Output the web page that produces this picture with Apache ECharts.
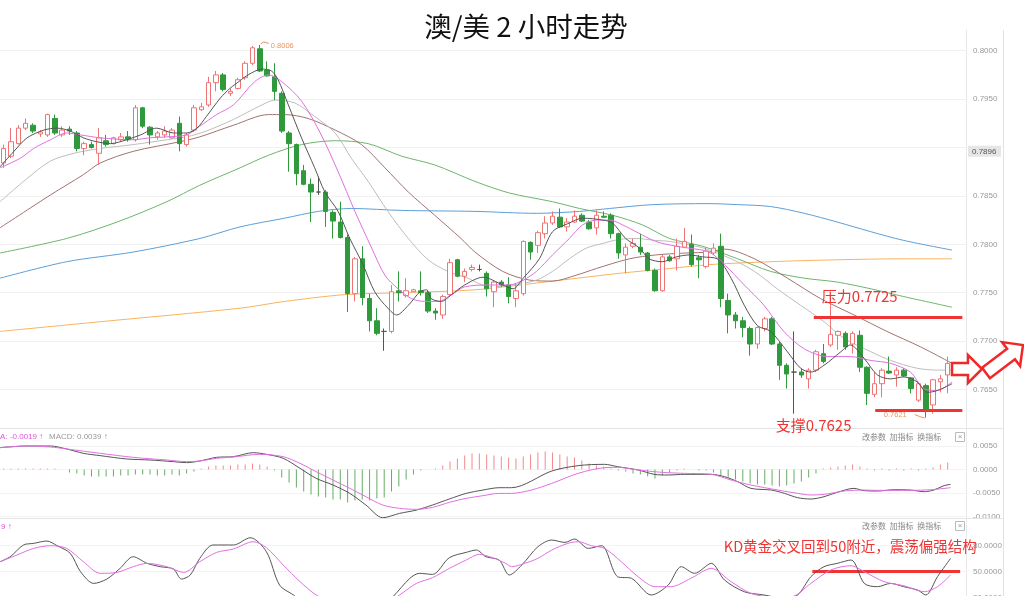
<!DOCTYPE html>
<html><head><meta charset="utf-8">
<script src="https://cdn.jsdelivr.net/npm/echarts@6/dist/echarts.min.js"></script>
<style>html,body{margin:0;padding:0;background:#fff}#c{width:1024px;height:596px}</style>
</head><body><div id="c"></div>
<script>
// ---------------- DATA ----------------
const categories = Array.from({length:132}, (_, i) => String(i + 1));
// [open, close, low, high]
const candles = [
[0.7884,0.7899,0.7879,0.7903],[0.7891,0.7906,0.7889,0.7920],[0.7904,0.7920,0.7903,0.7923],[0.7920,0.7925,0.7918,0.7930],
[0.7923,0.7917,0.7915,0.7925],[0.7914,0.7916,0.7911,0.7918],[0.7913,0.7934,0.7911,0.7935],[0.7930,0.7915,0.7913,0.7934],
[0.7913,0.7918,0.7911,0.7922],[0.7919,0.7917,0.7913,0.7922],[0.7915,0.7899,0.7896,0.7917],[0.7899,0.7904,0.7892,0.7906],
[0.7903,0.7900,0.7899,0.7906],[0.7894,0.7910,0.7882,0.7920],[0.7907,0.7903,0.7901,0.7913],[0.7904,0.7910,0.7903,0.7911],
[0.7908,0.7911,0.7906,0.7915],[0.7911,0.7908,0.7906,0.7917],[0.7908,0.7941,0.7906,0.7944],[0.7941,0.7922,0.7920,0.7942],
[0.7921,0.7913,0.7903,0.7922],[0.7911,0.7915,0.7908,0.7917],[0.7913,0.7917,0.7910,0.7922],[0.7910,0.7918,0.7909,0.7920],
[0.7925,0.7904,0.7896,0.7932],[0.7903,0.7913,0.7901,0.7915],[0.7918,0.7941,0.7916,0.7944],[0.7939,0.7942,0.7938,0.7946],
[0.7944,0.7967,0.7942,0.7973],[0.7967,0.7975,0.7958,0.7979],[0.7975,0.7960,0.7958,0.7977],[0.7956,0.7958,0.7953,0.7961],
[0.7961,0.7970,0.7960,0.7972],[0.7972,0.7987,0.7970,0.7989],[0.7987,0.8003,0.7985,0.8005],[0.8002,0.7979,0.7978,0.8006],
[0.7980,0.7974,0.7973,0.7989],[0.7973,0.7958,0.7949,0.7987],[0.7956,0.7917,0.7915,0.7958],[0.7915,0.7904,0.7875,0.7917],
[0.7903,0.7873,0.7861,0.7904],[0.7876,0.7862,0.7861,0.7882],[0.7862,0.7854,0.7823,0.7868],[0.7854,0.7854,0.7851,0.7870],
[0.7854,0.7834,0.7818,0.7856],[0.7833,0.7824,0.7806,0.7835],[0.7823,0.7807,0.7806,0.7844],[0.7807,0.7749,0.7730,0.7810],
[0.7749,0.7785,0.7741,0.7787],[0.7785,0.7745,0.7737,0.7798],[0.7744,0.7721,0.7710,0.7749],[0.7721,0.7708,0.7706,0.7734],
[0.7710,0.7710,0.7690,0.7713],[0.7710,0.7751,0.7708,0.7758],[0.7752,0.7750,0.7741,0.7772],[0.7747,0.7752,0.7745,0.7765],
[0.7751,0.7753,0.7751,0.7754],[0.7752,0.7750,0.7747,0.7772],[0.7750,0.7731,0.7729,0.7752],[0.7731,0.7729,0.7722,0.7734],
[0.7727,0.7746,0.7723,0.7748],[0.7748,0.7781,0.7746,0.7785],[0.7784,0.7767,0.7766,0.7785],[0.7767,0.7772,0.7761,0.7775],
[0.7774,0.7776,0.7772,0.7779],[0.7774,0.7774,0.7772,0.7779],[0.7770,0.7754,0.7746,0.7772],[0.7751,0.7761,0.7735,0.7763],
[0.7761,0.7758,0.7756,0.7763],[0.7758,0.7746,0.7739,0.7766],[0.7744,0.7752,0.7735,0.7760],[0.7749,0.7803,0.7747,0.7804],
[0.7802,0.7792,0.7784,0.7803],[0.7799,0.7812,0.7791,0.7814],[0.7811,0.7822,0.7806,0.7829],[0.7822,0.7829,0.7820,0.7834],
[0.7828,0.7818,0.7817,0.7837],[0.7818,0.7823,0.7813,0.7827],[0.7823,0.7829,0.7822,0.7835],[0.7830,0.7824,0.7823,0.7832],
[0.7823,0.7816,0.7815,0.7825],[0.7817,0.7830,0.7810,0.7835],[0.7829,0.7828,0.7827,0.7834],[0.7830,0.7811,0.7806,0.7832],
[0.7811,0.7791,0.7785,0.7812],[0.7789,0.7797,0.7770,0.7801],[0.7798,0.7801,0.7796,0.7806],[0.7797,0.7792,0.7789,0.7811],
[0.7791,0.7773,0.7772,0.7792],[0.7773,0.7752,0.7751,0.7775],[0.7752,0.7787,0.7751,0.7789],[0.7787,0.7783,0.7782,0.7789],
[0.7785,0.7798,0.7773,0.7806],[0.7797,0.7803,0.7796,0.7817],[0.7800,0.7779,0.7777,0.7810],[0.7786,0.7784,0.7765,0.7789],
[0.7777,0.7793,0.7775,0.7797],[0.7791,0.7796,0.7789,0.7801],[0.7798,0.7744,0.7735,0.7811],[0.7742,0.7727,0.7708,0.7749],
[0.7727,0.7721,0.7713,0.7730],[0.7721,0.7714,0.7704,0.7725],[0.7713,0.7697,0.7685,0.7715],[0.7697,0.7714,0.7692,0.7715],
[0.7713,0.7723,0.7710,0.7725],[0.7723,0.7697,0.7696,0.7725],[0.7697,0.7675,0.7660,0.7699],[0.7675,0.7666,0.7651,0.7677],
[0.7668,0.7668,0.7625,0.7710],[0.7668,0.7665,0.7662,0.7672],[0.7661,0.7670,0.7651,0.7672],[0.7670,0.7689,0.7668,0.7691],
[0.7687,0.7679,0.7677,0.7697],[0.7696,0.7707,0.7694,0.7748],[0.7706,0.7710,0.7691,0.7711],[0.7708,0.7694,0.7691,0.7710],
[0.7697,0.7708,0.7687,0.7710],[0.7706,0.7673,0.7668,0.7711],[0.7673,0.7646,0.7634,0.7674],[0.7645,0.7656,0.7642,0.7668],
[0.7656,0.7670,0.7642,0.7672],[0.7669,0.7667,0.7666,0.7684],[0.7665,0.7670,0.7653,0.7673],[0.7670,0.7664,0.7663,0.7672],
[0.7662,0.7651,0.7646,0.7663],[0.7639,0.7656,0.7637,0.7658],[0.7654,0.7628,0.7621,0.7656],[0.7634,0.7660,0.7625,0.7661],
[0.7658,0.7661,0.7647,0.7665],[0.7665,0.7677,0.7646,0.7684]
];
// moving averages: [candle index, price]
const ma5 = [[-0.5,0.7880],[1.4,0.7896],[3.2,0.7910],[5.5,0.7918],[7.3,0.7920],[9.1,0.7917],[10.9,0.7910],[12.7,0.7906],[14.6,0.7904],[16.8,0.7908],[18.7,0.7913],[20.9,0.7920],[23.2,0.7915],[25,0.7915],[26.4,0.7920],[27.7,0.7932],[29.6,0.7951],[30.9,0.7961],[31.6,0.7965],[33.4,0.7975],[35.3,0.7981],[36.6,0.7979],[37.5,0.7970],[38.9,0.7944],[40.7,0.7910],[42.5,0.7879],[43.9,0.7854],[45.7,0.7834],[47.3,0.7806],[49.1,0.7779],[50.7,0.7751],[52.5,0.7734],[53.7,0.7727],[55.3,0.7737],[56.9,0.7751],[57.8,0.7753],[58.4,0.7744],[59.8,0.7741],[61.2,0.7748],[63,0.7758],[65.5,0.7766],[68.2,0.7758],[69.6,0.7754],[71,0.7765],[73.2,0.7785],[75,0.7813],[77.3,0.7822],[79.1,0.7827],[81.9,0.7825],[83.2,0.7822],[85,0.7806],[86.9,0.7796],[88.2,0.7785],[90,0.7782],[91.9,0.7787],[93.7,0.7789],[95.5,0.7787],[97.5,0.7785],[99.4,0.7765],[101.2,0.7737],[103,0.7716],[104.8,0.7710],[107.1,0.7689],[108.9,0.7672],[110.3,0.7668],[112.1,0.7675],[114.4,0.7689],[115.7,0.7696],[117.6,0.7682],[119.4,0.7665],[121.2,0.7661],[123,0.7663],[124.8,0.7658],[126.2,0.7647],[127.6,0.7649],[129.6,0.7656]];
const ma10 = [[-0.5,0.7879],[2.3,0.7889],[4.1,0.7899],[6.4,0.7908],[8.6,0.7915],[10.5,0.7913],[13.2,0.7910],[17.7,0.7908],[20,0.7910],[22.3,0.7911],[25,0.7913],[26.8,0.7922],[29.1,0.7934],[31.4,0.7944],[34.3,0.7968],[36.2,0.7975],[38,0.7968],[40.7,0.7948],[43.4,0.7913],[45.7,0.7875],[48,0.7834],[50.3,0.7796],[52.1,0.7768],[53.9,0.7754],[55.7,0.7744],[57.5,0.7741],[59.4,0.7741],[61.2,0.7748],[63,0.7756],[66.4,0.7758],[69.1,0.7758],[71,0.7763],[72.8,0.7772],[75,0.7789],[77.3,0.7806],[79.1,0.7820],[81,0.7825],[82.8,0.7825],[84.6,0.7820],[86.4,0.7813],[89.1,0.7803],[91.9,0.7798],[93.7,0.7796],[96.4,0.7792],[98.5,0.7779],[101.2,0.7758],[103.9,0.7737],[106.6,0.7710],[109.4,0.7692],[112.6,0.7684],[115.7,0.7684],[118.5,0.7680],[121.2,0.7677],[123.9,0.7668],[125.7,0.7651],[127.6,0.7649],[129.6,0.7658]];
const ma20 = [[-0.5,0.7844],[3.2,0.7868],[6.4,0.7886],[9.6,0.7894],[13.2,0.7899],[17.7,0.7903],[22.3,0.7908],[25,0.7911],[27.7,0.7917],[31.4,0.7929],[35.3,0.7944],[37.1,0.7949],[39.8,0.7946],[42.5,0.7932],[45.3,0.7915],[47.5,0.7889],[49.8,0.7865],[52.5,0.7834],[55.3,0.7806],[58,0.7784],[60.7,0.7772],[63.4,0.7765],[66.4,0.7756],[69.6,0.7758],[72.8,0.7763],[75,0.7772],[77.3,0.7785],[79.6,0.7796],[81.9,0.7801],[84.1,0.7805],[86.4,0.7806],[89.1,0.7804],[91,0.7803],[94.6,0.7798],[95.7,0.7796],[99.4,0.7785],[102.6,0.7772],[105.7,0.7754],[108.9,0.7737],[112.1,0.7720],[114.8,0.7703],[118.5,0.7689],[121.2,0.7680],[124.8,0.7672],[127.6,0.7670],[129.6,0.7670]];
const ma30 = [[-0.5,0.7817],[6.4,0.7851],[10.9,0.7872],[13.2,0.7884],[17.7,0.7896],[24.1,0.7906],[26.8,0.7911],[31.4,0.7923],[36.2,0.7934],[38.4,0.7934],[41.6,0.7930],[45.3,0.7918],[48.9,0.7903],[52.1,0.7879],[55.3,0.7854],[58.9,0.7830],[62.5,0.7806],[64.4,0.7792],[68.2,0.7772],[71.9,0.7763],[75,0.7762],[78.2,0.7768],[81,0.7775],[85.5,0.7785],[89.1,0.7789],[93.2,0.7791],[96.4,0.7792],[98.5,0.7795],[102.6,0.7785],[107.1,0.7765],[111.6,0.7744],[116.2,0.7727],[120.7,0.7710],[125.3,0.7694],[129.6,0.7677]];
const ma60 = [[-0.5,0.7791],[8.6,0.7806],[15.5,0.7823],[22.3,0.7844],[26.8,0.7861],[32.3,0.7879],[36.2,0.7892],[40.7,0.7903],[45.3,0.7907],[49.8,0.7904],[54.4,0.7891],[58.9,0.7882],[64.4,0.7865],[69.1,0.7853],[75,0.7844],[78.7,0.7837],[83.2,0.7830],[87.3,0.7820],[91,0.7806],[95.5,0.7798],[100.3,0.7785],[104.8,0.7772],[109.4,0.7765],[113.9,0.7761],[118.5,0.7754],[123,0.7746],[129.6,0.7735]];
const ma120 = [[-0.5,0.7765],[8.6,0.7782],[17.7,0.7792],[26.8,0.7806],[32.3,0.7818],[38.4,0.7827],[43,0.7834],[47.5,0.7837],[54.4,0.7835],[64.4,0.7834],[72.8,0.7832],[78.7,0.7834],[82.8,0.7837],[88.7,0.7841],[96.4,0.7842],[100.3,0.7841],[104.8,0.7839],[109.4,0.7832],[113.9,0.7823],[118.5,0.7813],[123,0.7804],[129.6,0.7794]];
const ma250 = [[-0.5,0.7710],[13.2,0.7720],[32.3,0.7734],[38.4,0.7741],[46.6,0.7748],[54.4,0.7750],[64.4,0.7753],[72.8,0.7760],[84.1,0.7770],[91,0.7775],[96.4,0.7779],[104.8,0.7782],[113.9,0.7784],[123,0.7785],[129.6,0.7785]];
// MACD histogram per candle
const macdHist = [
0.0002,0.0002,0.0002,0.0002,0.0002,0.0002,0.0002,0.0002,0,-0.00064,
-0.00085,-0.00128,-0.00149,-0.00149,-0.00149,-0.00149,-0.00128,-0.00128,-0.00106,-0.00106,
-0.00106,-0.00128,-0.00128,-0.00106,-0.00128,-0.00085,-0.00043,0.00021,0.00064,0.00085,
0.00085,0.00085,0.00106,0.00106,0.00128,0.00106,0.00064,-0.00021,-0.0017,-0.00277,
-0.00383,-0.00469,-0.00533,-0.00575,-0.00596,-0.00639,-0.00639,-0.00703,-0.0066,-0.00639,
-0.0066,-0.00618,-0.00596,-0.00469,-0.00362,-0.00213,-0.00106,-0.00021,0,0.00021,
0.00085,0.0017,0.00234,0.00298,0.00341,0.00341,0.0032,0.00298,0.00277,0.00256,
0.00234,0.00277,0.0032,0.00362,0.00383,0.00362,0.0032,0.00277,0.00256,0.00192,
0.00128,0.00085,0.00064,0.00021,-0.00021,-0.00043,-0.00085,-0.00106,-0.00149,-0.00192,
-0.00128,-0.00064,-0.00021,0.00021,0,-0.00021,-0.00021,-0.00064,-0.00128,-0.0017,
-0.00213,-0.00256,-0.00298,-0.0032,-0.0032,-0.00341,-0.00362,-0.00341,-0.00298,-0.00256,
-0.0017,-0.00085,0.00021,0.00043,0.00064,0.00085,0.00106,0.00064,0.00021,-0.00021,
0.00021,-0.00021,0.00021,-0.00021,0.00021,-0.00021,0.00021,0.00043,0.00106,0.00149
];
const dif = [[-0.5,0.00465],[3.2,0.0050],[6.4,0.0050],[8.6,0.00437],[10.9,0.00344],[13.2,0.00295],[16.8,0.00224],[20,0.00202],[23.2,0.00167],[25,0.00146],[26.8,0.00181],[29.1,0.00259],[31.4,0.00273],[34.1,0.00358],[35.9,0.00323],[38.2,0.00238],[40.5,0.00025],[42.7,-0.00188],[45,-0.0033],[47.3,-0.00508],[49.5,-0.00756],[51.8,-0.01026],[54.1,-0.00934],[56.4,-0.00863],[58.6,-0.00756],[60.9,-0.00628],[63.2,-0.00508],[65.5,-0.00437],[67.7,-0.00387],[69.4,-0.00387],[74.9,-0.00032],[78.5,0.00082],[82.1,0.0011],[83.9,0.0006],[86.7,-0.0001],[88.9,-0.00103],[90.8,-0.00117],[93,-0.00103],[96.7,-0.00103],[98.5,-0.00153],[100.3,-0.00259],[102.1,-0.00401],[104.9,-0.00437],[106.7,-0.00508],[108.5,-0.006],[110.3,-0.00628],[112.1,-0.00579],[113.9,-0.00486],[116.2,-0.00401],[117.6,-0.00451],[119.4,-0.00458],[121.7,-0.0043],[123.9,-0.00437],[125.8,-0.00472],[127.1,-0.00437],[128.5,-0.00344],[129.4,-0.00316]];
const dea = [[-0.5,0.00465],[3.2,0.0050],[6.4,0.00479],[8.6,0.00437],[13.2,0.00344],[17.7,0.00259],[22.3,0.00202],[25,0.00167],[26.8,0.00181],[29.1,0.00238],[31.4,0.00266],[35,0.00323],[38.2,0.00273],[40.5,0.00131],[42.7,-0.00046],[45,-0.00224],[47.3,-0.00401],[49.5,-0.00579],[51.8,-0.00756],[54.1,-0.00827],[56.4,-0.00848],[58.6,-0.00806],[60.9,-0.00699],[63.2,-0.00614],[65.5,-0.00557],[67.7,-0.00508],[69.4,-0.00508],[72.1,-0.00437],[74.9,-0.00295],[78.5,-0.00082],[82.1,0.00039],[83.9,0.00046],[86.7,-0.0001],[89.9,-0.0006],[93,-0.00082],[96.7,-0.00103],[99.4,-0.00224],[102.1,-0.0033],[105.8,-0.00437],[108.5,-0.00508],[110.3,-0.00543],[112.1,-0.00529],[114.9,-0.00458],[117.6,-0.00437],[119.4,-0.00444],[123.9,-0.00444],[126.7,-0.0043],[129.4,-0.00387]];
const kLine = [[-0.5,61.5],[0.9,67.3],[2.7,80.8],[4.1,82.7],[5.9,85.4],[7.3,80],[9.1,71.2],[10.5,50],[12.3,36.5],[14.1,41.5],[15.9,53.8],[17.7,67.3],[19.6,59.6],[21.4,55.8],[23.2,53.1],[24.3,41.5],[25.5,46.2],[26.8,65.4],[28.6,80.8],[31.4,80.8],[33.7,89.2],[35.9,73.1],[37.7,34.6],[39.6,23.1],[41,14],[43,8],[45.5,5],[48,4],[50.5,7],[52,13],[53.2,21.2],[55.5,42.3],[56.8,48.1],[58.6,46.9],[60.9,66.2],[63.2,72.3],[64.6,75],[65.9,67.3],[67.7,63.5],[69.1,46.2],[70.8,57.7],[73,78.8],[74.9,86.5],[76.7,83.8],[78,87.7],[79.9,76.9],[81.7,80],[83.9,44.2],[85.8,42.3],[88.5,23.1],[90.8,34.6],[92.6,55.8],[94.4,48.1],[96.7,59.6],[98.5,40.4],[101.2,26.9],[103.9,23.1],[106.7,19.2],[108.5,23.1],[110.3,44.2],[112.1,55.8],[113.9,59.6],[115.8,63.5],[117.6,36.5],[119.4,32.7],[121.2,36.5],[123,32.7],[124.9,28.8],[126,23.1],[127.6,44.2],[129.4,65.4]];
const dLine = [[-0.5,61.5],[1.8,69.2],[4.1,76.9],[6.4,80],[8.6,76.9],[10.9,61.5],[13.2,48.1],[15.5,49.2],[17.7,55.8],[19.6,59.6],[22.3,55.8],[24.6,49.2],[26.8,61.5],[29.1,72.3],[31.4,76.2],[34.1,84.6],[35.9,77.7],[38.2,57.7],[40.5,38.5],[42.7,23.1],[44.5,16],[47,11],[49.5,10],[52,13],[54.1,23.1],[56.4,36.5],[58.6,43.1],[60.9,53.8],[63.2,63.5],[65,70],[66.8,66.2],[68.6,59.6],[69.4,55.8],[71.2,59.6],[73,65.4],[74.9,75],[77.1,82.7],[78.5,84.6],[80.3,80],[82.1,76.9],[84.4,61.5],[86.7,44.2],[89,32.7],[91.2,32.7],[93.9,42.3],[96.7,53.8],[99.4,38.5],[102.1,25],[104.9,21.2],[107.6,21.2],[110.3,36.5],[113,51.9],[115.8,56.9],[117.6,50],[120.3,38.5],[123,33.8],[125.8,26.9],[127.6,32.7],[129.4,46.2]];
// annotations
const pressure = {text:'压力0.7725', value:0.7725, from:110.7, to:131};
const support  = {text:'支撑0.7625', value:0.7629, from:119.1, to:131};
const kdNote   = {text:'KD黄金交叉回到50附近，震荡偏强结构', value:50, from:110.5, to:130.7};
const highMark = {text:'0.8006', index:35, value:0.8006};
const lowMark  = {text:'0.7621', index:126, value:0.7621};
const crossPrice = '0.7896';
const hiddenPrice = [0.8050, 0.7600, 0.7900];
const macdHeader = [{text:'DEA: -0.0019 ↑', color:'#e055d8'}, {text:'MACD: 0.0039 ↑', color:'#999'}];

// ---------------- CHART ----------------
const N = categories.length;
const RED = '#f03434';
const lab = {color:'#999', fontSize:8, fontFamily:'"Liberation Sans", Arial, sans-serif', margin:7};
const chart = echarts.init(document.getElementById('c'));
const fix = v => Math.round(v * 10000) / 10000;
function lineS(data, color, xi, yi, z) {
  return {type:'line', data, xAxisIndex:xi, yAxisIndex:yi, showSymbol:false, smooth:0.3, z:z||3,
    lineStyle:{width:1, color}, silent:true};
}
const option = {
  animation:false,
  backgroundColor:'#fff',
  grid:[
    {left:0, right:58, top:2.3, height:435.6, outerBoundsMode:'none'},
    {left:0, right:58, top:422.5, height:117.5, outerBoundsMode:'none'},
    {left:0, right:58, top:519.7, height:104, outerBoundsMode:'none'}
  ],
  xAxis:[
    {type:'category', gridIndex:0, data:categories, show:false},
    {type:'value', gridIndex:0, min:-0.5, max:N-0.5, show:false},
    {type:'category', gridIndex:1, data:categories, show:false},
    {type:'value', gridIndex:1, min:-0.5, max:N-0.5, show:false},
    {type:'value', gridIndex:2, min:-0.5, max:N-0.5, show:false}
  ],
  yAxis:[
    {gridIndex:0, position:'right', min:0.7600, max:0.8050, interval:0.005, axisLine:{show:false}, axisTick:{show:false},
     splitLine:{show:true, showMinLine:false, showMaxLine:false, lineStyle:{color:'#f1f1f1'}},
     axisLabel:Object.assign({}, lab, {formatter:v => hiddenPrice.some(h => Math.abs(h - v) < 1e-6) ? '' : fix(v).toFixed(4)})},
    {gridIndex:1, position:'right', min:-0.015, max:0.010, interval:0.005, axisLine:{show:false}, axisTick:{show:false},
     splitLine:{show:true, showMinLine:false, showMaxLine:false, lineStyle:{color:'#f3f3f3'}},
     axisLabel:Object.assign({}, lab, {formatter:v => (v > 0.0099 || v < -0.0101) ? '' : fix(v).toFixed(4)})},
    {gridIndex:2, position:'right', min:-10, max:110, interval:30, axisLine:{show:false}, axisTick:{show:false},
     splitLine:{show:true, showMinLine:false, showMaxLine:false, lineStyle:{color:'#f3f3f3'}},
     axisLabel:Object.assign({}, lab, {formatter:v => (v < 0 || v > 100) ? '' : v.toFixed(4)})}
  ],
  series:[
    lineS(ma250, '#f7b35e', 1, 0, 2),
    lineS(ma120, '#5c9fd8', 1, 0, 2),
    lineS(ma60, '#6db56d', 1, 0, 2),
    lineS(ma30, '#a27272', 1, 0, 2),
    lineS(ma20, '#bdbdbd', 1, 0, 2),
    {type:'candlestick', xAxisIndex:0, yAxisIndex:0, data:candles, barWidth:5, z:4, silent:true,
     itemStyle:{color:'#ffffff', color0:'#2f9a3b', borderColor:'#ef7474', borderColor0:'#2f9a3b', borderColorDoji:'#555', borderWidth:1}},
    lineS(ma10, '#e070e0', 1, 0, 5),
    lineS(ma5, '#555555', 1, 0, 5),
    {type:'line', xAxisIndex:1, yAxisIndex:0, data:[], z:6, silent:true,
     markLine:{symbol:'none', silent:true, label:{show:false}, lineStyle:{color:RED, width:3, type:'solid'},
       data:[
         [{coord:[pressure.from, pressure.value]}, {coord:[pressure.to, pressure.value]}],
         [{coord:[support.from, support.value]}, {coord:[support.to, support.value]}]
       ]}},
    {type:'bar', xAxisIndex:2, yAxisIndex:1, barWidth:1, silent:true,
     data:macdHist.map(v => ({value:v, itemStyle:{color: v >= 0 ? '#f28a8a' : '#64ad64'}}))},
    lineS(dif, '#555555', 3, 1, 5),
    lineS(dea, '#e070e0', 3, 1, 5),
    lineS(kLine, '#555555', 4, 2, 5),
    lineS(dLine, '#e070e0', 4, 2, 5),
    {type:'line', xAxisIndex:4, yAxisIndex:2, data:[], z:6, silent:true,
     markLine:{symbol:'none', silent:true, label:{show:false}, lineStyle:{color:RED, width:3, type:'solid'},
       data:[[{coord:[kdNote.from, kdNote.value]}, {coord:[kdNote.to, kdNote.value]}]]}}
  ]
};
chart.setOption(option);

// -------- annotations positioned through the chart's scales --------
const P = (x, y) => chart.convertToPixel({xAxisIndex:1, yAxisIndex:0}, [x, y]);
const K = (x, y) => chart.convertToPixel({xAxisIndex:4, yAxisIndex:2}, [x, y]);
const CJK = '"Noto Sans CJK SC", "Noto Sans", sans-serif';
function txt(x, y, text, color, size, align, family) {
  return {type:'text', x, y, z:100, silent:true,
    style:{text, fill:color, font:size + 'px ' + (family || CJK), align:align || 'left', verticalAlign:'middle'}};
}
function ln(x1, y1, x2, y2, color, w) {
  return {type:'line', z:50, silent:true, shape:{x1, y1, x2, y2}, style:{stroke:color, lineWidth:w || 1}};
}
function arrowPts(tail, tip, sw, hw, hl) {
  const dx = tip[0] - tail[0], dy = tip[1] - tail[1], L = Math.hypot(dx, dy);
  const ux = dx / L, uy = dy / L, nx = -uy, ny = ux;
  const b = [tip[0] - ux * hl, tip[1] - uy * hl];
  return [[tail[0] + nx * sw / 2, tail[1] + ny * sw / 2], [b[0] + nx * sw / 2, b[1] + ny * sw / 2],
    [b[0] + nx * hw / 2, b[1] + ny * hw / 2], tip, [b[0] - nx * hw / 2, b[1] - ny * hw / 2],
    [b[0] - nx * sw / 2, b[1] - ny * sw / 2], [tail[0] - nx * sw / 2, tail[1] - ny * sw / 2]];
}
const hp = P(highMark.index, highMark.value);
const lp = P(lowMark.index, lowMark.value);
const pr = P(pressure.from + 1.1, pressure.value + 0.0021);
const sp = P(support.from - 13.6, support.value - 0.00155);
const kp = K(kdNote.from - 12.1, kdNote.value + 29.6);
const cp = P(0, 0.7896);
const sepA = 428.5, sepB = 518.5;
const tools = '改参数  加指标  换指标';
const graphics = [
  txt(526, 27, '澳/美 2 小时走势', '#111', 27.5, 'center'),
  ln(0, sepA, 1003, sepA, '#e4e4e4'), ln(0, sepB, 1003, sepB, '#e4e4e4'),
  ln(966.5, 30, 966.5, 596, '#e8e8e8'), ln(1003.5, 30, 1003.5, 596, '#e2e2e2'),
  // header texts
  txt(-11, 437, macdHeader[0].text, macdHeader[0].color, 8, 'left', '"Liberation Sans", Arial'),
  txt(49, 437, macdHeader[1].text, macdHeader[1].color, 8, 'left', '"Liberation Sans", Arial'),
  txt(1, 527, '9 ↑', '#e055d8', 8, 'left', '"Liberation Sans", Arial'),
  txt(862, 437, tools, '#888', 8), txt(862, 526, tools, '#888', 8),
  {type:'rect', z:100, shape:{x:955.5, y:432.5, width:9, height:9}, style:{fill:'#fff', stroke:'#bbb', lineWidth:1}},
  txt(960, 437, '×', '#999', 8, 'center', 'Arial'),
  {type:'rect', z:100, shape:{x:955.5, y:521.5, width:9, height:9}, style:{fill:'#fff', stroke:'#bbb', lineWidth:1}},
  txt(960, 526, '×', '#999', 8, 'center', 'Arial'),
  // crosshair price
  {type:'rect', z:100, shape:{x:968, y:cp[1] - 5.5, width:33, height:11}, style:{fill:'#e6e6e6'}},
  txt(972, cp[1], crossPrice, '#555', 8, 'left', '"Liberation Sans", Arial'),
  // high / low marks
  {type:'polyline', z:60, shape:{points:[[hp[0] + 1, hp[1] - 1], [hp[0] + 4, hp[1] - 3], [hp[0] + 9, hp[1] - 1.5]]}, style:{stroke:'#e9905a', lineWidth:1, fill:null}},
  txt(hp[0] + 11, hp[1] + 1.5, highMark.text, '#ec9560', 7.5, 'left', '"Liberation Sans", Arial'),
  {type:'polyline', z:60, shape:{points:[[lp[0] - 1, lp[1] + 0.5], [lp[0] - 6, lp[1] - 1], [lp[0] - 11, lp[1] - 3]]}, style:{stroke:'#e9905a', lineWidth:1, fill:null}},
  txt(lp[0] - 19, lp[1] - 2.5, lowMark.text, '#ec9560', 7.5, 'right', '"Liberation Sans", Arial'),
  // red annotations
  txt(pr[0], pr[1], pressure.text, RED, 15),
  txt(sp[0], sp[1], support.text, RED, 15),
  txt(kp[0], kp[1], kdNote.text, RED, 14.5),
  {type:'polygon', z:110, shape:{points:arrowPts([952, 369], [982, 369], 12, 28, 14)}, style:{fill:'#fff', stroke:'#f02828', lineWidth:2.5}},
  {type:'polygon', z:110, shape:{points:arrowPts([986, 373], [1023, 345], 13, 30, 15)}, style:{fill:'#fff', stroke:'#f02828', lineWidth:2.5}}
];
chart.setOption({graphic:{elements:graphics}});
</script></body></html>
